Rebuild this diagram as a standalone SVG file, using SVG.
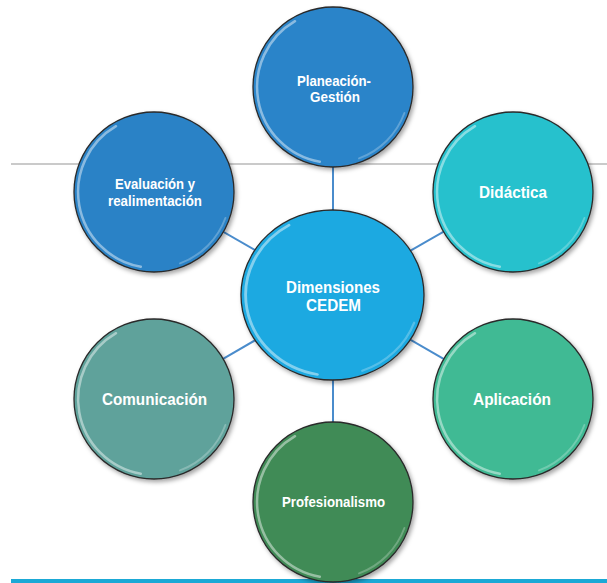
<svg xmlns="http://www.w3.org/2000/svg" xmlns:xlink="http://www.w3.org/1999/xlink" width="607" height="583" viewBox="0 0 607 583">
<defs>
<style>
.bubble{stroke:#2a2a2a;stroke-width:1.3;filter:url(#shadow)}
.hl{fill:none;stroke:#ffffff;stroke-width:2.5;stroke-linecap:round;opacity:0.45}
.hl2{fill:none;stroke:#ffffff;stroke-width:2;stroke-linecap:round;opacity:0.25}
.lbl{font-family:"Liberation Sans",Arial,sans-serif;font-weight:bold;fill:#ffffff;text-anchor:middle}
.conn{stroke:#4a8ccc;stroke-width:2;fill:none}
</style>
<filter id="shadow" x="-20%" y="-20%" width="140%" height="140%">
<feDropShadow dx="2" dy="2.5" stdDeviation="2" flood-color="#000" flood-opacity="0.35"/>
</filter>
<g id="hl">
<path class="hl" d="M -13.2 74.8 A 76 76 0 0 1 -38 -65.8"/>
<path class="hl2" d="M 71.4 26 A 76 76 0 0 1 26 71.4"/>
</g>
</defs>
<rect width="607" height="583" fill="#ffffff"/>
<line x1="11" y1="164" x2="607" y2="164" stroke="#b8b8b8" stroke-width="1.5"/>
<rect x="11" y="579" width="596" height="4" fill="#1ba9d6"/>
<g id="connectors">
<line class="conn" x1="333" y1="295" x2="333" y2="87"/>
<line class="conn" x1="333" y1="295" x2="154" y2="192"/>
<line class="conn" x1="333" y1="295" x2="513" y2="192"/>
<line class="conn" x1="333" y1="295" x2="154" y2="399"/>
<line class="conn" x1="333" y1="295" x2="513" y2="399"/>
<line class="conn" x1="333" y1="295" x2="333" y2="502"/>
</g>
<g id="node-planeacion" transform="translate(333,87)">
<circle class="bubble" r="80" fill="#2a84c9"/>
<use xlink:href="#hl"/>
<text class="lbl" font-size="14" x="1" y="-1" textLength="74" lengthAdjust="spacingAndGlyphs">Planeación-</text>
<text class="lbl" font-size="14" x="2" y="15" textLength="50" lengthAdjust="spacingAndGlyphs">Gestión</text>
</g>
<g id="node-evaluacion" transform="translate(154,192)">
<circle class="bubble" r="80" fill="#2a82c6"/>
<use xlink:href="#hl"/>
<text class="lbl" font-size="14.5" x="1" y="-3" textLength="80" lengthAdjust="spacingAndGlyphs">Evaluación y</text>
<text class="lbl" font-size="14.5" x="1" y="14" textLength="94" lengthAdjust="spacingAndGlyphs">realimentación</text>
</g>
<g id="node-didactica" transform="translate(513,192)">
<circle class="bubble" r="80" fill="#27c1cd"/>
<use xlink:href="#hl"/>
<text class="lbl" font-size="16.5" x="0" y="6" textLength="68" lengthAdjust="spacingAndGlyphs">Didáctica</text>
</g>
<g id="node-comunicacion" transform="translate(154,399)">
<circle class="bubble" r="80" fill="#5fa29b"/>
<use xlink:href="#hl"/>
<text class="lbl" font-size="16.5" x="0.5" y="6" textLength="105" lengthAdjust="spacingAndGlyphs">Comunicación</text>
</g>
<g id="node-aplicacion" transform="translate(513,399)">
<circle class="bubble" r="80" fill="#41ba94"/>
<use xlink:href="#hl"/>
<text class="lbl" font-size="16.5" x="-1" y="6" textLength="78" lengthAdjust="spacingAndGlyphs">Aplicación</text>
</g>
<g id="node-profesionalismo" transform="translate(333,502)">
<circle class="bubble" r="80" fill="#3f8b57"/>
<use xlink:href="#hl"/>
<text class="lbl" font-size="14.5" x="0.5" y="5" textLength="103" lengthAdjust="spacingAndGlyphs">Profesionalismo</text>
</g>
<g id="node-center" transform="translate(332.5,295)">
<ellipse class="bubble" rx="91.5" ry="85" fill="#1fa9e1"/>
<use xlink:href="#hl" transform="scale(1.144,1.0625)"/>
<text class="lbl" font-size="16.5" x="0.5" y="-2.5" textLength="94" lengthAdjust="spacingAndGlyphs">Dimensiones</text>
<text class="lbl" font-size="16.5" x="1" y="16" textLength="55" lengthAdjust="spacingAndGlyphs">CEDEM</text>
</g>
</svg>
